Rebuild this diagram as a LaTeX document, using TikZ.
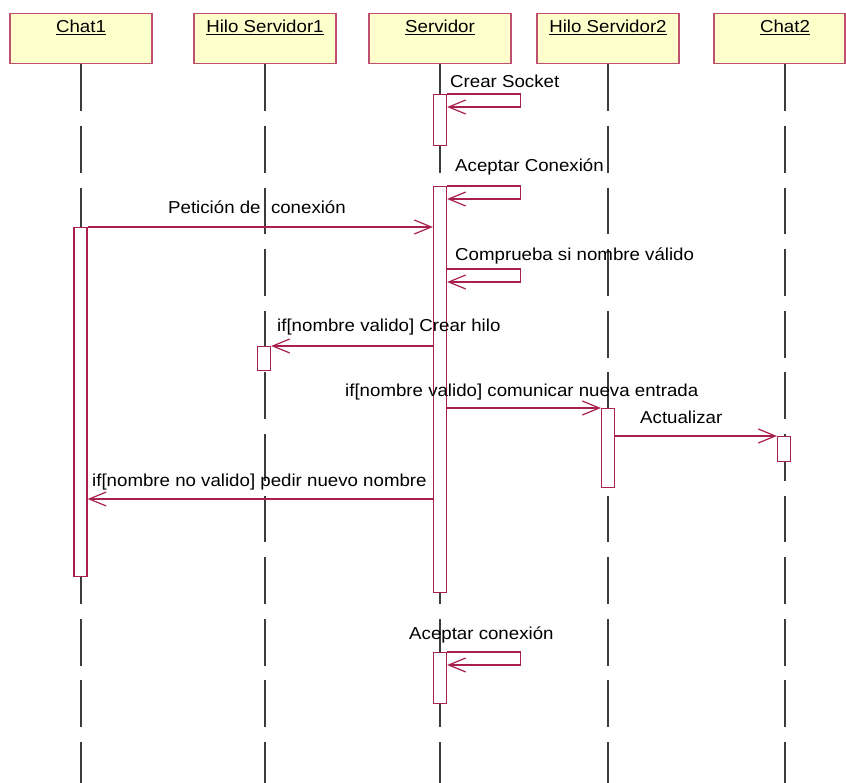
\documentclass[tikz,border=0pt]{standalone}
\usepackage{fontspec}
\setmainfont{Liberation Sans}[FakeStretch=1.08]
\usetikzlibrary{arrows.meta}
\definecolor{headfill}{RGB}{255,255,204}
\definecolor{headline}{RGB}{192,80,112}
\definecolor{msgcol}{RGB}{168,32,78}
\definecolor{lifecol}{RGB}{60,60,60}

\begin{document}
\begin{tikzpicture}[x=1pt,y=-1pt,
  font=\fontsize{17.3}{20}\selectfont,
  header/.style={rectangle,draw=headline,fill=headfill,line width=1.4pt,
    minimum width=142pt,minimum height=50pt,inner sep=0pt,anchor=north},
  lifeline/.style={draw=lifecol,line width=1.4pt,dash pattern=on 46.8pt off 14.8pt},
  actbox/.style={rectangle,draw=msgcol,fill=white,line width=1.3pt,
    minimum width=13pt,inner sep=0pt,anchor=north},
  msg/.style={draw=msgcol,line width=1.2pt,-{Straight Barb[length=17pt,width=14pt]}},
  msglabel/.style={anchor=base west,inner sep=0pt},
  headlabel/.style={anchor=base,inner sep=0pt}
]
\useasboundingbox (0,0) rectangle (846,783);

% object boxes
\node[header] (h1) at (81,13) {};
\node[header] (h2) at (265,13) {};
\node[header] (h3) at (440,13) {};
\node[header] (h4) at (608,13) {};
\node[header,minimum width=131pt] (h5) at (779.5,13) {};
\node[headlabel] (t1) at (81,33) {\underline{Chat1}};
\node[headlabel] (t2) at (265,33) {\underline{Hilo Servidor1}};
\node[headlabel] (t3) at (440,33) {\underline{Servidor}};
\node[headlabel] (t4) at (608,33) {\underline{Hilo Servidor2}};
\node[headlabel] (t5) at (785,33) {\underline{Chat2}};

% lifelines
\coordinate (e1) at (81,783);
\coordinate (e2) at (265,783);
\coordinate (e3) at (440,783);
\coordinate (e4) at (608,783);
\coordinate (e5) at (785,783);
\draw[lifeline] (h1.south) -- (e1);
\draw[lifeline] (h2.south) -- (e2);
\draw[lifeline] (h3.south) -- (e3);
\draw[lifeline] (h4.south -| e4) -- (e4);
\draw[lifeline] (h5.south -| e5) -- (e5);

% activations
\node[actbox,minimum height=51pt] (ss1) at (440,94) {};
\node[actbox,minimum height=406pt] (ss2) at (440,186) {};
\node[actbox,minimum height=51pt] (ss3) at (440,652) {};
\node[actbox,minimum height=349pt] (c1) at (80.5,227) {};
\node[actbox,minimum height=24pt] (hs1) at (264,346) {};
\node[actbox,minimum height=79pt] (hs2) at (608,408) {};
\node[actbox,minimum height=25pt] (c2) at (784,436) {};

% messages
\draw[msg] (ss1.north east) -- ++(73,0) -- ++(0,13) -- ++(-73,0);
\node[msglabel] (m1) at (450,88) {Crear Socket};

\draw[msg] (ss2.north east) -- ++(73,0) -- ++(0,13) -- ++(-73,0);
\node[msglabel] (m2) at (455,172) {Aceptar Conexión};

\draw[msg] (c1.north east) -- (c1.north east -| ss2.west);
\node[msglabel] (m3) at (168,214) {Petición de\ \ conexión};

\coordinate (cmp) at (ss2.east |- 0,269);
\draw[msg] (cmp) -- ++(73,0) -- ++(0,13) -- ++(-73,0);
\node[msglabel] (m4) at (455,261) {Comprueba si nombre válido};

\draw[msg] (ss2.west |- hs1.north) -- (hs1.north east);
\node[msglabel] (m5) at (277,332) {if[nombre valido] Crear hilo};

\draw[msg] (ss2.east |- hs2.north) -- (hs2.north west);
\node[msglabel] (m6) at (345,396) {if[nombre valido] comunicar nueva entrada};

\draw[msg] (hs2.east |- c2.north) -- (c2.north west);
\node[msglabel] (m7) at (640,424) {Actualizar};

\coordinate (rej) at (ss2.west |- 0,499);
\draw[msg] (rej) -- (rej -| c1.east);
\node[msglabel] (m8) at (92,486) {if[nombre no valido] pedir nuevo nombre};

\draw[msg] (ss3.north east) -- ++(73,0) -- ++(0,13) -- ++(-73,0);
\node[msglabel] (m9) at (409,639) {Aceptar conexión};
\end{tikzpicture}
\end{document}
